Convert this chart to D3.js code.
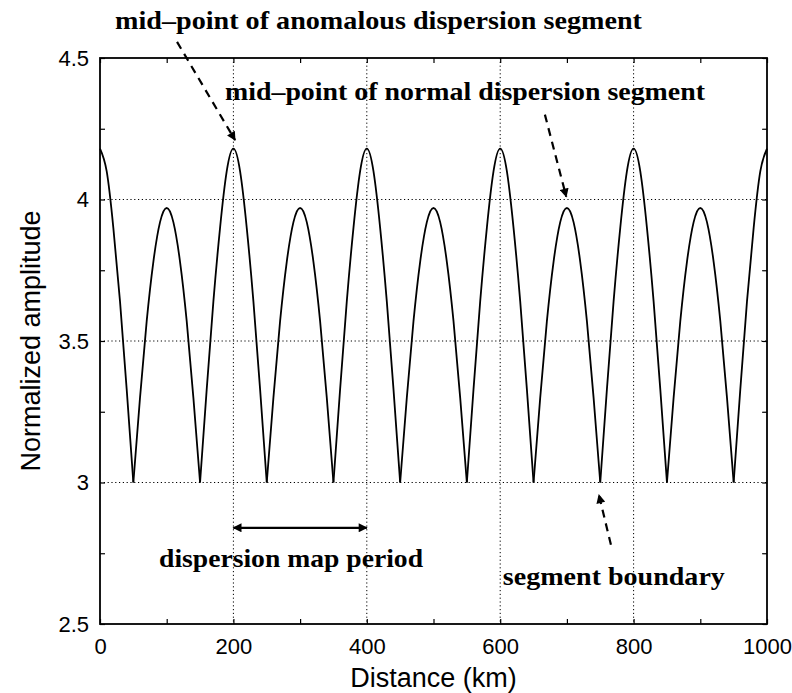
<!DOCTYPE html>
<html>
<head>
<script src="https://d3js.org/d3.v7.min.js"></script>
<style>
  body { margin: 0; background: #fff; }
  svg { display: block; }
  .tick text { font-family: "Liberation Sans", Arial, sans-serif; font-size: 22px; fill: #000; }
  .tick line { stroke: #000; stroke-width: 1.2px; }
  .grid { stroke: #000; stroke-width: 1px; stroke-dasharray: 1.2, 2.6; }
  .note { font-family: "Liberation Serif", "Times New Roman", serif; font-weight: bold; font-size: 26px; }
</style>
</head>
<body>
<svg></svg>
<script>
// sampled curve, every 10 km
var distanceKm = [
  0,10,20,30,40,50,60,70,80,90,100,110,120,130,140,150,160,170,180,190,
  200,210,220,230,240,250,260,270,280,290,300,310,320,330,340,350,360,370,380,390,
  400,410,420,430,440,450,460,470,480,490,500,510,520,530,540,550,560,570,580,590,
  600,610,620,630,640,650,660,670,680,690,700,710,720,730,740,750,760,770,780,790,
  800,810,820,830,840,850,860,870,880,890,900,910,920,930,940,950,960,970,980,990,1000];
var amplitude = [
  4.18,4.10,3.90,3.64,3.33,3.00,3.30,3.57,3.78,3.92,3.97,3.92,3.78,3.57,3.30,3.00,3.33,3.64,3.90,4.10,
  4.18,4.10,3.90,3.64,3.33,3.00,3.30,3.57,3.78,3.92,3.97,3.92,3.78,3.57,3.30,3.00,3.33,3.64,3.90,4.10,
  4.18,4.10,3.90,3.64,3.33,3.00,3.30,3.57,3.78,3.92,3.97,3.92,3.78,3.57,3.30,3.00,3.33,3.64,3.90,4.10,
  4.18,4.10,3.90,3.64,3.33,3.00,3.30,3.57,3.78,3.92,3.97,3.92,3.78,3.57,3.30,3.00,3.33,3.64,3.90,4.10,
  4.18,4.10,3.90,3.64,3.33,3.00,3.30,3.57,3.78,3.92,3.97,3.92,3.78,3.57,3.30,3.00,3.33,3.64,3.90,4.10,4.18];
// segment boundaries (curve has a cusp there)
var segmentEnds = [0,50,150,250,350,450,550,650,750,850,950,1000];

var xTickValues = [0,100,200,300,400,500,600,700,800,900,1000];
var xLabelValues = [0,200,400,600,800,1000];
var yTickValues = [2.5,2.75,3,3.25,3.5,3.75,4,4.25,4.5];
var yLabelValues = [2.5,3,3.5,4,4.5];
var xGrid = [200,400,600,800];
var yGrid = [3,3.5,4];

var margin = {top: 58, right: 25, bottom: 69, left: 100},
    width = 792 - margin.left - margin.right,
    height = 693 - margin.top - margin.bottom;

var x = d3.scaleLinear().domain([0,1000]).range([0,width]);
var y = d3.scaleLinear().domain([2.5,4.5]).range([height,0]);

var svg = d3.select("svg").attr("width",792).attr("height",693);
var g = svg.append("g").attr("transform","translate("+margin.left+","+margin.top+")");

var defs = svg.append("defs");
defs.append("marker")
  .attr("id","head")
  .attr("viewBox","0 0 10 10")
  .attr("refX",9).attr("refY",5)
  .attr("markerWidth",10).attr("markerHeight",9)
  .attr("markerUnits","userSpaceOnUse")
  .attr("orient","auto-start-reverse")
  .append("path").attr("d","M0,0 L10,5 L0,10 z").attr("fill","#000");

// grid
g.selectAll(".gx").data(xGrid).enter().append("line")
  .attr("class","grid")
  .attr("x1",function(d){ return x(d); }).attr("x2",function(d){ return x(d); })
  .attr("y1",0).attr("y2",height);
g.selectAll(".gy").data(yGrid).enter().append("line")
  .attr("class","grid")
  .attr("y1",function(d){ return y(d); }).attr("y2",function(d){ return y(d); })
  .attr("x1",0).attr("x2",width);

function xFmt(d){ return xLabelValues.indexOf(d) >= 0 ? d : ""; }
function yFmt(d){ return yLabelValues.indexOf(d) >= 0 ? d : ""; }

g.append("g").attr("transform","translate(0,"+height+")")
  .call(d3.axisBottom(x).tickValues(xTickValues).tickSize(-5).tickPadding(14).tickFormat(xFmt))
  .select(".domain").remove();
g.append("g")
  .call(d3.axisTop(x).tickValues(xTickValues).tickSize(-5).tickFormat(""))
  .select(".domain").remove();
g.append("g")
  .call(d3.axisLeft(y).tickValues(yTickValues).tickSize(-5).tickPadding(11).tickFormat(yFmt))
  .select(".domain").remove();
g.append("g").attr("transform","translate("+width+",0)")
  .call(d3.axisRight(y).tickValues(yTickValues).tickSize(-5).tickFormat(""))
  .select(".domain").remove();

// curve, one arch per segment
var pts = distanceKm.map(function(d,i){ return {d:d, a:amplitude[i]}; });
var line = d3.line().x(function(p){ return x(p.d); }).y(function(p){ return y(p.a); }).curve(d3.curveNatural);
for (var k = 0; k < segmentEnds.length - 1; k++) {
  var seg = pts.filter(function(p){ return p.d >= segmentEnds[k] && p.d <= segmentEnds[k+1]; });
  g.append("path").attr("d", line(seg))
    .attr("fill","none").attr("stroke","#000").attr("stroke-width",1.8);
}

// frame
g.append("rect").attr("width",width).attr("height",height)
  .attr("fill","none").attr("stroke","#000").attr("stroke-width",1.8);

// annotations
var dashed = [
  {from:[115.5,4.557], to:[202.5,4.21]},
  {from:[667,4.30], to:[699,4.01]},
  {from:[766,2.78], to:[748,2.956]}
];
dashed.forEach(function(a){
  g.append("line")
    .attr("x1",x(a.from[0])).attr("y1",y(a.from[1]))
    .attr("x2",x(a.to[0])).attr("y2",y(a.to[1]))
    .attr("stroke","#000").attr("stroke-width",2.2)
    .attr("stroke-dasharray","8,6")
    .attr("marker-end","url(#head)");
});
g.append("line")
  .attr("x1",x(200)).attr("x2",x(400))
  .attr("y1",y(2.84)).attr("y2",y(2.84))
  .attr("stroke","#000").attr("stroke-width",2.2)
  .attr("marker-start","url(#head)").attr("marker-end","url(#head)");

var notes = [
  {text:"mid\u2013point of anomalous dispersion segment", at:[22.5,4.602], w:527},
  {text:"mid\u2013point of normal dispersion segment", at:[187.4,4.351], w:480},
  {text:"dispersion map period", at:[88.5,2.702], w:264},
  {text:"segment boundary", at:[604,2.638], w:222}
];
notes.forEach(function(n){
  g.append("text").attr("class","note")
    .attr("x",x(n.at[0])).attr("y",y(n.at[1]))
    .attr("textLength",n.w).attr("lengthAdjust","spacingAndGlyphs")
    .text(n.text);
});

// axis titles
svg.append("text")
  .attr("x", margin.left + width/2).attr("y", 687)
  .attr("text-anchor","middle")
  .style("font-family","Liberation Sans, Arial, sans-serif").style("font-size","27px")
  .text("Distance (km)");
svg.append("text")
  .attr("transform","translate(40,"+(margin.top + height/2)+") rotate(-90)")
  .attr("text-anchor","middle")
  .style("font-family","Liberation Sans, Arial, sans-serif").style("font-size","27px")
  .text("Normalized amplitude");
</script>
</body>
</html>
